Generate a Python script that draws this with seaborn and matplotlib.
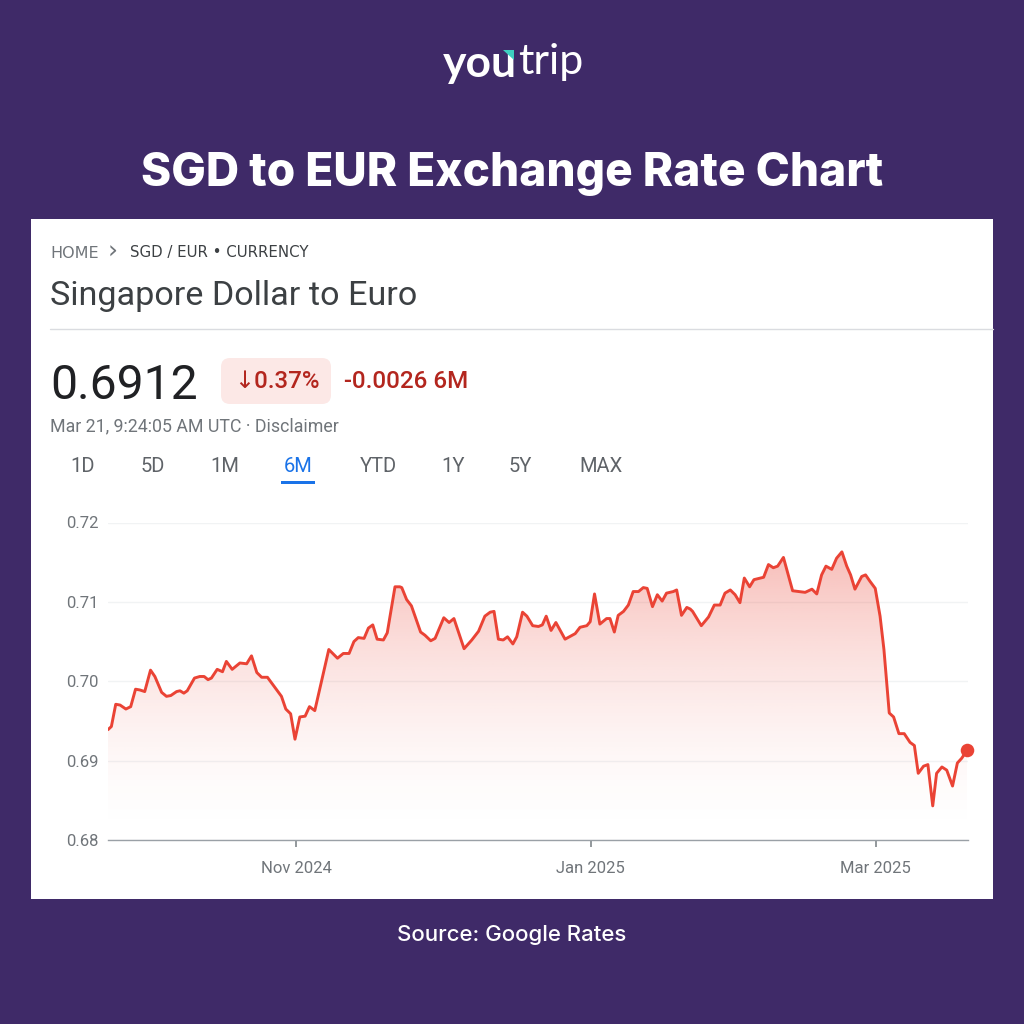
import matplotlib
matplotlib.use("Agg")
import matplotlib.dates as mdates
import matplotlib.pyplot as plt
import numpy as np
import pandas as pd
import seaborn as sns
from matplotlib.patches import FancyBboxPatch, Polygon, Rectangle

# days counted from 1 Nov 2024
days = [
    -38.9, -38.2, -37.3, -36.4, -35.2, -34.2, -33.2, -32.3, -31.3, -30.1, -29.2, -27.8, -26.8, -25.9,
    -24.7, -24.0, -23.2, -22.5, -21.0, -19.9, -19.0, -18.2, -17.5, -16.3, -15.2, -14.4, -13.2, -11.6,
    -10.2, -9.2, -8.1, -7.1, -5.9, -4.7, -3.0, -2.1, -1.1, -0.2, 0.8, 1.9, 2.8, 3.9, 6.8, 8.6,
    9.8, 11.0, 12.0, 12.9, 14.1, 15.0, 15.9, 16.8, 18.1, 18.9, 20.5, 21.5, 21.9, 22.9, 23.9, 25.8,
    26.7, 27.9, 28.8, 30.6, 31.7, 32.7, 34.8, 36.4, 37.8, 39.1, 40.2, 41.0, 41.9, 42.9, 43.8, 44.9,
    45.7, 46.9, 47.8, 49.0, 50.2, 51.0, 51.8, 52.8, 53.8, 55.7, 57.8, 58.8, 60.2, 60.9, 61.8, 62.9,
    64.3, 65.0, 65.9, 66.7, 67.8, 68.8, 69.8, 70.9, 71.9, 72.7, 73.8, 74.8, 75.8, 76.7, 78.1, 78.8,
    79.8, 80.9, 81.6, 82.1, 83.9, 85.4, 86.6, 87.8, 88.8, 89.9, 90.9, 91.9, 92.8, 93.9, 94.8, 96.8,
    97.8, 98.8, 99.7, 100.9, 102.8, 105.4, 106.8, 107.8, 108.8, 109.7, 110.9, 111.9, 113.0, 114.0,
    114.8, 115.7, 117.1, 117.9, 118.8, 119.9, 120.9, 121.7, 122.8, 123.7, 124.8, 125.9, 127.1, 128.0,
    128.8, 129.9, 130.8, 131.8, 132.6, 133.7, 134.7, 135.9, 136.9, 137.8, 138.9,
]
rates = [
    .6939, .6943, .6971, .6970, .6965, .6968, .6990, .6989, .6987, .7014, .7006, .6986, .6981, .6982,
    .6987, .6988, .6985, .6988, .7004, .7006, .7006, .7002, .7004, .7015, .7012, .7025, .7015, .7023,
    .7022, .7032, .7011, .7005, .7005, .6995, .6981, .6965, .6959, .6927, .6955, .6956, .6968, .6963, .7040, .7029,
    .7035, .7035, .7050, .7055, .7054, .7067, .7071, .7053, .7052, .7061, .7119, .7119, .7118, .7103, .7095, .7062,
    .7058, .7051, .7054, .7080, .7074, .7079, .7041, .7052, .7063, .7082, .7087, .7088, .7053, .7052, .7056, .7047,
    .7056, .7087, .7082, .7070, .7069, .7071, .7082, .7064, .7074, .7053, .7060, .7068, .7070, .7075, .7110, .7072,
    .7079, .7079, .7062, .7083, .7088, .7096, .7113, .7113, .7118, .7117, .7094, .7109, .7101, .7111, .7113, .7115,
    .7083, .7093, .7091, .7088, .7070, .7081, .7096, .7096, .7111, .7115, .7109, .7099, .7130, .7119, .7128, .7131,
    .7147, .7143, .7145, .7156, .7114, .7112, .7116, .7110, .7134, .7145, .7141, .7155, .7163, .7145,
    .7134, .7116, .7132, .7134, .7126, .7117, .7082, .7040, .6960, .6955, .6934, .6934, .6923, .6919,
    .6884, .6893, .6895, .6843, .6884, .6892, .6888, .6868, .6897, .6903, .6913,
]
y_ticks = [0.68, 0.69, 0.70, 0.71, 0.72]
x_ticks = ["2024-11-01", "2025-01-01", "2025-03-01"]
x_labels = ["Nov 2024", "Jan 2025", "Mar 2025"]
tabs = ["1D", "5D", "1M", "6M", "YTD", "1Y", "5Y", "MAX"]
tab_x = [83, 153, 225, 298, 378, 453, 520, 601]

PURPLE = "#3f2a68"
RED = "#ea4335"
DARK_RED = "#b3261e"
GREY = "#70757a"

sns.set_theme(style="white")
plt.rcParams["font.family"] = ["Roboto", "DejaVu Sans"]

df = pd.DataFrame({"date": pd.Timestamp("2024-11-01") + pd.to_timedelta(days, unit="D"), "rate": rates})

fig = plt.figure(figsize=(10.24, 10.24), dpi=100, facecolor=PURPLE)

# overlay in pixel coordinates for the page around the chart
page = fig.add_axes([0, 0, 1, 1], zorder=0)
page.set_xlim(0, 1024)
page.set_ylim(1024, 0)
page.axis("off")
page.add_patch(Rectangle((31, 219), 962, 680, color="white", lw=0))

page.text(443, 64, "you", color="white", fontsize=32, family="Lato", weight="bold", va="center")
page.text(518, 62, "trip", color="white", fontsize=31, family="Lato", weight="normal", va="center")
page.add_patch(Polygon([[503, 50], [514, 50], [514, 60]], color="#3ecfc0", lw=0, zorder=5))
page.text(512, 174, "SGD to EUR Exchange Rate Chart", color="white", fontsize=33.1, family="Inter",
          weight="heavy", ha="center", va="center")
page.text(512, 935, "Source: Google Rates", color="white", fontsize=16, family="Inter", weight="medium",
          ha="center", va="center")

page.text(50, 253, "HOME", color=GREY, fontsize=11.5, family="DejaVu Sans", va="center")
page.text(113, 252, "›", color=GREY, fontsize=18, ha="center", va="center", family="DejaVu Sans")
page.text(130, 253, "SGD / EUR • CURRENCY", color="#3c4043", fontsize=10.8, family="DejaVu Sans", va="center")
page.text(50, 296, "Singapore Dollar to Euro", color="#3c4043", fontsize=24.6, va="center")
page.plot([50, 993], [329, 329], color="#dadce0", lw=1)
page.text(50, 386, "0.6912", color="#202124", fontsize=34.6, va="center")
page.add_patch(FancyBboxPatch((229, 366), 94, 30, boxstyle="round,pad=8,rounding_size=9", color="#fce8e6", lw=0))
page.text(234, 382, "↓0.37%", color=DARK_RED, fontsize=17.3, weight="medium", va="center")
page.text(344, 381, "-0.0026 6M", color=DARK_RED, fontsize=17.4, weight="medium", va="center")
page.text(50, 426, "Mar 21, 9:24:05 AM UTC · Disclaimer", color=GREY, fontsize=12.8, va="center")
for label, x in zip(tabs, tab_x):
    page.text(x, 466, label, color="#1a73e8" if label == "6M" else "#5f6368", fontsize=14.5,
              ha="center", va="center")
page.add_patch(Rectangle((281, 481), 34, 2.5, color="#1a73e8", lw=0))

# the chart itself
ax = fig.add_axes([108 / 1024, 1 - 840 / 1024, 860 / 1024, 317.5 / 1024], zorder=1)
ax.patch.set_alpha(0)

x_start = mdates.date2num(df["date"].iloc[0])
x_end = mdates.date2num(df["date"].iloc[-1])

# vertical red fade under the line
shade = np.zeros((256, 2, 4))
shade[..., :3] = matplotlib.colors.to_rgb(RED)
shade[..., 3] = (0.41 * np.linspace(1, 0, 256) ** 1.7)[:, None]
im = ax.imshow(shade, extent=[x_start, x_end, 0.68, 0.72], aspect="auto", origin="upper", zorder=1)
under = ax.fill_between(df["date"], df["rate"], 0.68, color="none", lw=0)
im.set_clip_path(under.get_paths()[0], transform=ax.transData)

sns.lineplot(data=df, x="date", y="rate", color=RED, linewidth=2.1, sort=False, estimator=None, ax=ax, zorder=3)
ax.lines[-1].set_solid_joinstyle("round")
ax.scatter(df["date"].iloc[-1], df["rate"].iloc[-1], s=95, color=RED, lw=0, zorder=4, clip_on=False)

ax.set_xlim(x_start, x_end + 0.2)
ax.set_ylim(0.68, 0.72)
ax.set_xlabel("")
ax.set_ylabel("")
ax.set_yticks(y_ticks, [f"{v:.2f}" for v in y_ticks])
ax.set_xticks(pd.to_datetime(x_ticks), x_labels)
ax.yaxis.grid(True, color="#f1f3f4", lw=1)
ax.set_axisbelow(True)
ax.tick_params(axis="y", length=0, pad=7, labelsize=12, labelcolor=GREY)
ax.tick_params(axis="x", length=5, width=1.2, color="#80868b", pad=10, labelsize=12, labelcolor=GREY, bottom=True)
for side in ["top", "left", "right"]:
    ax.spines[side].set_visible(False)
ax.spines["bottom"].set_color("#9aa0a6")
ax.spines["bottom"].set_linewidth(1)

fig.savefig("out.png", dpi=100, facecolor=PURPLE)
